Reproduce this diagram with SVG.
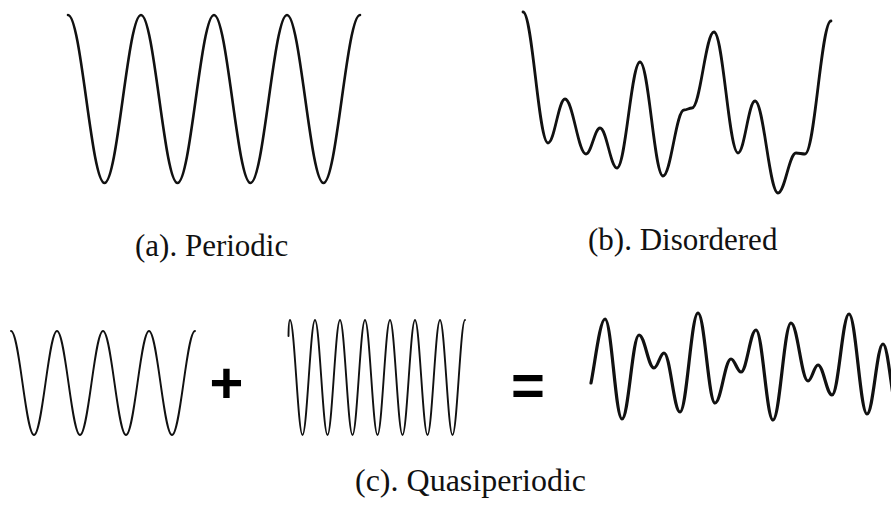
<svg xmlns="http://www.w3.org/2000/svg" width="891" height="505" viewBox="0 0 891 505">
<style>
.w{fill:none;stroke:#111;stroke-linecap:round;stroke-linejoin:round}
.lbl{font-family:"Liberation Serif","Times New Roman",serif;font-size:31px;fill:#111}
.op{font-family:"Liberation Sans",Arial,sans-serif;font-weight:bold;font-size:58px;fill:#000;text-anchor:middle}
</style>
<rect width="891" height="505" fill="#fff"/>
<g id="periodic">
<path class="w" stroke-width="2.6" d="M68,15 C81.3,15 91.2,183 104.5,183 S127.7,15 141,15 S164.2,183 177.5,183 S200.7,15 214,15 S237.2,183 250.5,183 S273.7,15 287,15 S310.2,183 323.5,183 S346.7,15 360,15"/>
<text class="lbl" x="135" y="256">(a). Periodic</text>
</g>
<g id="disordered">
<path class="w" stroke-width="2.8" d="M523,12 C532.5,12 538.5,143 548,143 C554.5,143 558.5,99 565,99 C573,99 578,154 586,154 C591.3,154 594.7,128 600,128 C606.5,128 610.5,168 617,168 C625.7,168 631.3,62 640,62 C648.7,62 654.3,176 663,176 C671,176 676,110 684,110 C687,110 689,108 692,108 C700.4,108 705.6,32 714,32 C723.1,32 728.9,153 738,153 C744.5,153 748.5,101 755,101 C763.7,101 769.3,193 778,193 C784.8,193 789.2,153 796,153 C799,153 802,154 805,154 C814.9,154 821.1,21 831,21"/>
<text class="lbl" x="588" y="250">(b). Disordered</text>
</g>
<g id="quasiperiodic">
<path class="w" stroke-width="1.9" d="M11,331 C19.4,331 25.6,435 34,435 S48.6,331 57,331 S71.6,435 80,435 S94.6,331 103,331 S117.6,435 126,435 S140.6,331 149,331 S163.6,435 172,435 S186.6,331 195,331"/>
<text class="op" x="226.5" y="403">+</text>
<path class="w" stroke-width="1.9" d="M288.5,336 C288.6,326 289,320 290,320 C294.55,320 297.95,435 302.5,435 S310.45,320 315,320 S322.95,435 327.5,435 S335.45,320 340,320 S347.95,435 352.5,435 S360.45,320 365,320 S372.95,435 377.5,435 S385.45,320 390,320 S397.95,435 402.5,435 S410.45,320 415,320 S422.95,435 427.5,435 S435.45,320 440,320 S447.95,435 452.5,435 S460.45,320 465,320"/>
<text class="op" x="528" y="405">=</text>
<path class="w" stroke-width="3.2" stroke="#222" d="M591,383 C595,363 600,319 605,319 C611.5,319 615.5,419 622,419 C628.5,419 632.5,335 639,335 C644.7,335 648.3,368 654,368 C657.8,368 660.2,353 664,353 C670.1,353 673.9,412 680,412 C686.8,412 691.2,313 698,313 C704.5,313 708.5,403 715,403 C721.1,403 724.9,359 731,359 C734.8,359 737.2,372 741,372 C746.7,372 750.3,330 756,330 C762.5,330 766.5,420 773,420 C779.8,420 784.2,323 791,323 C797.5,323 801.5,381 808,381 C811.8,381 814.2,365 818,365 C823.3,365 826.7,395 832,395 C838.5,395 842.5,314 849,314 C855.8,314 860.2,414 867,414 C873.1,414 876.9,344 883,344 C889,344 893,420 900,420"/>
<text class="lbl" x="355" y="491" style="font-size:32px">(c). Quasiperiodic</text>
</g>
</svg>
